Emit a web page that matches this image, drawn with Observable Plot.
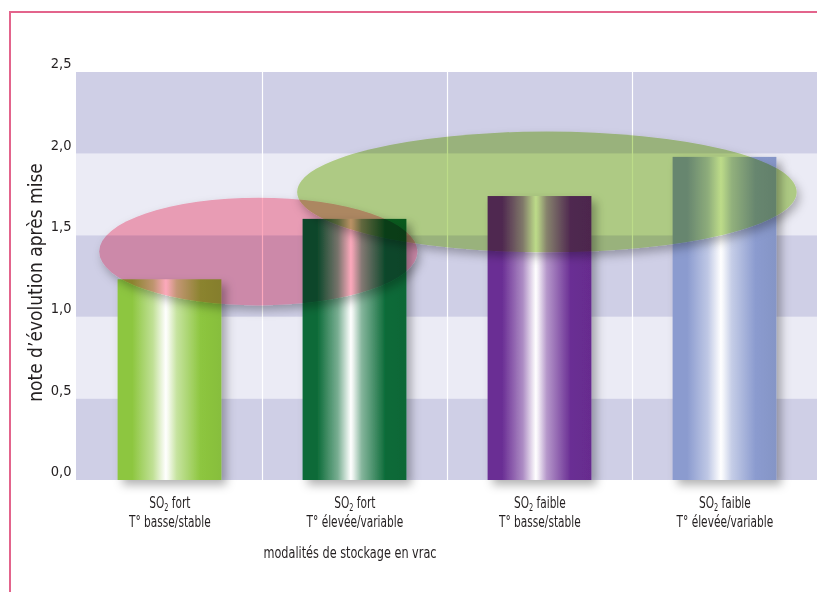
<!DOCTYPE html>
<html>
<head>
<meta charset="utf-8">
<script src="https://cdn.jsdelivr.net/npm/d3@7"></script>
<script src="https://cdn.jsdelivr.net/npm/@observablehq/plot@0.6"></script>
<style>
  html, body { margin: 0; padding: 0; background: #fff; overflow: hidden; }
  #frame { position: absolute; left: 9px; top: 11px; width: 900px; height: 700px;
           border: 2px solid #E3648C; box-sizing: border-box; }
  #chart { position: absolute; left: 0; top: 0; }
</style>
</head>
<body>
<div id="frame"></div>
<div id="chart"></div>
<script>
// Storage modalities (x) and the mean score after bottling (y)
const categories = [
  "SO2 fort\nT° basse/stable",
  "SO2 fort\nT° élevée/variable",
  "SO2 faible\nT° basse/stable",
  "SO2 faible\nT° élevée/variable"
];
const notes = [1.23, 1.60, 1.74, 1.98];
const barColors = ["#8DC63F", "#0B6B38", "#6A2E94", "#8B9BCF"];

// Alternating horizontal background stripes
const stripeStarts = [0, 0.5, 1, 1.5, 2];
const stripeTones = ["#CFCFE6", "#EBEBF5", "#CFCFE6", "#EBEBF5", "#CFCFE6"];
const yTicks = [0, 0.5, 1, 1.5, 2, 2.5];

// Highlight ellipses grouping the modalities (centre/radii in band units and score units)
const groupCx = [0.98, 2.54];
const groupCy = [1.40, 1.765];
const groupRx = [0.86, 1.35];
const groupRy = [0.33, 0.37];
const groupFills = ["#FCA9BC", "#BDDC89"];

const yTitle = "note d’évolution après mise";
const xTitle = "modalités de stockage en vrac";

const bars = categories.map((c, i) => ({category: c, note: notes[i], i}));
const stripes = stripeStarts.map((s, i) => ({y1: s, y2: s + 0.5, fill: stripeTones[i]}));
const groups = groupCx.map((cx, i) => ({cx, cy: groupCy[i], rx: groupRx[i], ry: groupRy[i], fill: groupFills[i]}));

const font = "'DejaVu Sans Condensed', 'Liberation Sans Narrow', sans-serif";

// Gradients and shadow filters used by the bars and ellipses
function defsMark() {
  const g = d3.create("svg:g");
  const defs = g.append("defs");
  barColors.forEach((c, i) => {
    const mix = d3.interpolateRgb(c, "#ffffff");
    const lg = defs.append("linearGradient")
      .attr("id", `bar-grad-${i}`).attr("x1", 0).attr("x2", 1).attr("y1", 0).attr("y2", 0);
    [[0, c], [0.14, c], [0.34, mix(0.45)], [0.43, mix(0.85)], [0.465, "#ffffff"],
     [0.49, mix(0.9)], [0.57, mix(0.5)], [0.8, c], [1, d3.color(c).darker(0.12).formatHex()]]
      .forEach(([o, col]) => lg.append("stop").attr("offset", o).attr("stop-color", col));
  });
  const f1 = defs.append("filter").attr("id", "bar-shadow")
    .attr("x", "-20%").attr("y", "-10%").attr("width", "150%").attr("height", "130%");
  f1.append("feDropShadow").attr("dx", 5).attr("dy", 5).attr("stdDeviation", 5)
    .attr("flood-color", "#000").attr("flood-opacity", 0.3);
  const f2 = defs.append("filter").attr("id", "ellipse-shadow")
    .attr("x", "-20%").attr("y", "-30%").attr("width", "140%").attr("height", "170%");
  f2.append("feDropShadow").attr("dx", 3).attr("dy", 5).attr("stdDeviation", 5)
    .attr("flood-color", "#000").attr("flood-opacity", 0.28);
  return g.node();
}

// White vertical separators at the band boundaries
function separatorsMark(index, scales) {
  const g = d3.create("svg:g");
  categories.slice(1).forEach(c => {
    const x = Math.round(scales.x(c)) + 0.5;
    g.append("line").attr("x1", x).attr("x2", x)
      .attr("y1", scales.y(0)).attr("y2", scales.y(2.5))
      .attr("stroke", "#ffffff").attr("stroke-width", 1.2);
  });
  return g.node();
}

// Translucent ellipses drawn through the x band scale and y linear scale
function groupsMark(index, scales) {
  const g = d3.create("svg:g");
  const left = scales.x(categories[0]);
  const step = scales.x(categories[1]) - left;
  groups.forEach(d => {
    g.append("ellipse")
      .attr("cx", left + d.cx * step)
      .attr("cy", scales.y(d.cy))
      .attr("rx", d.rx * step)
      .attr("ry", scales.y(0) - scales.y(d.ry))
      .attr("fill", d.fill)
      .attr("filter", "url(#ellipse-shadow)")
      .style("mix-blend-mode", "multiply");
  });
  return g.node();
}

const W = 817, H = 592;
const plot = Plot.plot({
  width: W,
  height: H,
  marginLeft: 76,
  marginRight: 0,
  marginTop: 72,
  marginBottom: H - 480,
  style: {fontFamily: font, fontSize: "14.5px", color: "#231F20", background: "transparent", overflow: "visible"},
  x: {domain: categories, padding: 0},
  y: {domain: [0, 2.5]},
  color: {type: "identity"},
  marks: [
    defsMark,
    Plot.rectY(stripes, {y1: "y1", y2: "y2", fill: "fill"}),
    separatorsMark,
    Plot.barY(bars, {x: "category", y: "note", fill: d => `url(#bar-grad-${d.i})`,
      insetLeft: 40.6, insetRight: 40.6}),
    groupsMark,
    Plot.axisY(yTicks, {tickSize: 0, tickPadding: 5, dy: -9, label: null,
      tickFormat: d => d.toFixed(1).replace(".", ",")}),
    Plot.axisX({tickSize: 0, tickPadding: 14, label: null, lineHeight: 1.22, fontSize: 15.5}),
    Plot.text([yTitle], {frameAnchor: "left", rotate: -90, dx: -41, dy: 6,
      fontSize: 19, textAnchor: "middle", lineAnchor: "middle", fill: "#231F20"}),
    Plot.text([xTitle], {frameAnchor: "bottom", dx: -97, dy: 72,
      fontSize: 16.5, textAnchor: "middle", lineAnchor: "middle", fill: "#231F20"})
  ]
});

const NS = "http://www.w3.org/2000/svg";

// Shadow behind the bars
plot.querySelectorAll("rect").forEach(r => {
  if ((r.getAttribute("fill") || "").startsWith("url(#bar-grad")) r.setAttribute("filter", "url(#bar-shadow)");
});

// Chemical subscript in "SO2"
plot.querySelectorAll("text, tspan").forEach(node => {
  if (node.childNodes.length === 1 && node.firstChild.nodeType === 3 && node.textContent.includes("SO2")) {
    const [before, after] = node.textContent.split("SO2");
    node.textContent = before + "SO";
    const sub = document.createElementNS(NS, "tspan");
    sub.setAttribute("font-size", "62%");
    sub.setAttribute("dy", "3");
    sub.textContent = "2";
    const rest = document.createElementNS(NS, "tspan");
    rest.setAttribute("dy", "-3");
    rest.textContent = after;
    node.append(sub, rest);
  }
});

// Narrow the x-axis wording horizontally, keeping each label centred on its anchor
function condense(texts, k) {
  texts.forEach(t => {
    const tr = t.getAttribute("transform");
    if (tr) {
      const wrap = document.createElementNS(NS, "g");
      wrap.setAttribute("transform", tr);
      t.removeAttribute("transform");
      t.parentNode.insertBefore(wrap, t);
      wrap.appendChild(t);
    }
    t.style.transformBox = "fill-box";
    t.style.transformOrigin = "center center";
    t.style.transform = `scaleX(${k})`;
  });
}
condense([...plot.querySelectorAll('g[aria-label="x-axis tick label"] text')], 0.76);
condense([...plot.querySelectorAll("text")].filter(t => t.textContent === xTitle), 0.76);

document.getElementById("chart").append(plot);
</script>
</body>
</html>
